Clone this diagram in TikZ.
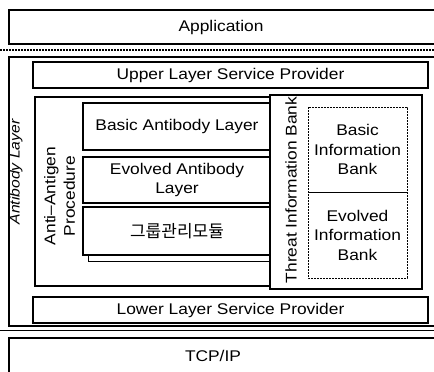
\documentclass[tikz,border=0pt]{standalone}
\usepackage{fontspec}
\setmainfont{Liberation Sans}[FakeStretch=1.12]
\newfontfamily\krfont{Noto Sans CJK KR}
\begin{document}
\begin{tikzpicture}[x=1pt,y=-1pt,line width=1.2pt,
  box/.style={draw,rectangle,inner sep=0pt,align=center,font=\fontsize{15.5}{19.5}\selectfont},
  lbl/.style={inner sep=0pt,align=center,font=\fontsize{15.5}{19.5}\selectfont},
  rlbl/.style={lbl,rotate=90},
  thinline/.style={line width=0.8pt},
  dashbox/.style={line width=0.8pt,dash pattern=on 2pt off 1pt}]
\useasboundingbox (0,0) rectangle (434,372);
\clip (0,0) rectangle (434,372);
% Application
\draw (9,10) rectangle (440,44);
\node[lbl] (app) at (221,27) {Application};
\draw[line width=1.5pt,dash pattern=on 2pt off 1pt] (0,50) -- (434,50);
% Antibody layer outer
\draw (9,57) rectangle (440,326);
\node[lbl,rotate=90,font=\fontsize{14}{17}\selectfont\itshape] (abl) at (16,172) {Antibody Layer};
\node[box,minimum width=395,minimum height=26] (upper) at (230.5,75) {Upper Layer Service Provider};
% Anti-Antigen procedure
\draw (35,97) rectangle (271,286);
\node[rlbl] (aap) at (59.5,196) {Anti--Antigen\\Procedure};
\node[box,minimum width=188,minimum height=47] (basic) at (177,126.5) {Basic Antibody Layer};
\node[box,minimum width=188,minimum height=46] (evolved) at (177,180) {Evolved Antibody\\Layer};
\node[box,minimum width=188,minimum height=48,font=\krfont\fontsize{17}{20}\selectfont] (group) at (177,231) {그룹관리모듈};
\draw[thinline] (88,255) -- (88,261) -- (271,261);
% Threat information bank
\draw[fill=white] (270,95) rectangle (422,289);
\node[rlbl] (tib) at (291,190) {Threat Information Bank};
\draw[dashbox] (308,107) rectangle (407,278);
\draw[thinline] (308,192) -- (407,192);
\node[lbl] (bib) at (357.5,149.5) {Basic\\Information\\Bank};
\node[lbl] (eib) at (357.5,235) {Evolved\\Information\\Bank};
% Lower
\node[box,minimum width=395,minimum height=26] (lower) at (230.5,310) {Lower Layer Service Provider};
\draw[thinline] (0,330) -- (434,330);
% TCP/IP
\draw (9,338) rectangle (440,380);
\node[lbl] (tcp) at (213,356) {TCP/IP};
\end{tikzpicture}
\end{document}
